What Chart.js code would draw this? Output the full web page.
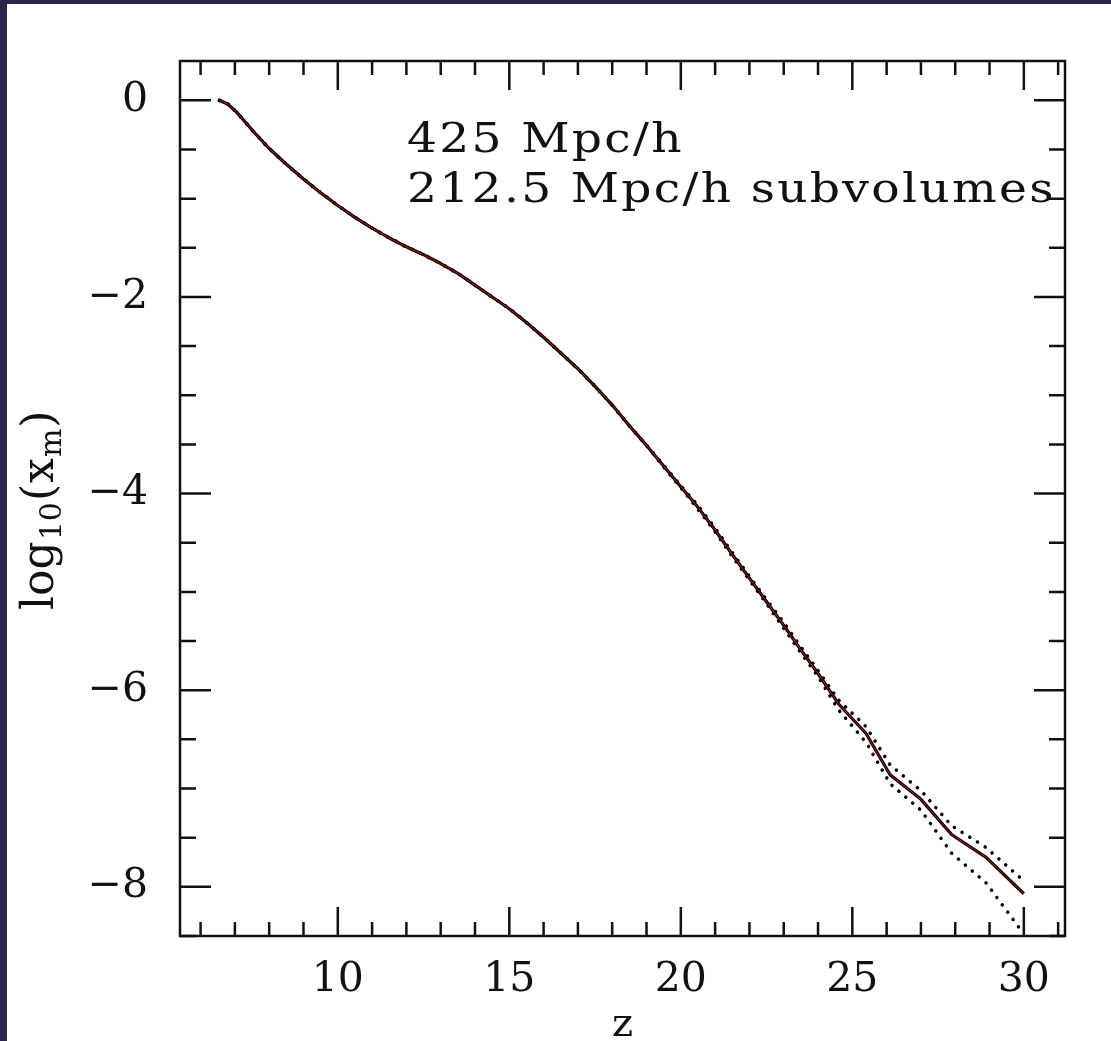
<!DOCTYPE html>
<html><head><meta charset="utf-8">
<script src="https://cdn.jsdelivr.net/npm/chart.js@4.4.1/dist/chart.umd.min.js"></script>
<style>html,body{margin:0;padding:0;background:#2c2550;overflow:hidden}canvas{display:block}</style>
</head><body>
<canvas id="c" width="1111" height="1041"></canvas>
<script>
// ---- data ----
const zVals = [6.55,6.8,7.05,7.3,7.6,8.0,8.5,9.0,9.5,10.0,10.5,11.0,11.5,12.0,12.5,13.0,13.5,14.0,14.5,15.0,15.5,16.0,16.5,17.0,17.5,18.0,18.5,19.0,19.5,20.0,20.5,21.0,21.5,22.0,22.5,23.0,23.5,24.0,24.6,25.4,26.1,27.0,27.9,28.9,30.0];
const meanVals = [0.0,-0.04,-0.12,-0.22,-0.34,-0.49,-0.65,-0.80,-0.94,-1.07,-1.19,-1.30,-1.40,-1.49,-1.57,-1.66,-1.76,-1.88,-2.00,-2.12,-2.26,-2.41,-2.57,-2.73,-2.91,-3.10,-3.31,-3.51,-3.72,-3.93,-4.14,-4.37,-4.62,-4.86,-5.10,-5.34,-5.59,-5.83,-6.14,-6.44,-6.86,-7.11,-7.47,-7.70,-8.07];
const upperVals = [0.0,-0.04,-0.12,-0.22,-0.34,-0.49,-0.65,-0.80,-0.94,-1.07,-1.19,-1.30,-1.40,-1.49,-1.57,-1.66,-1.76,-1.88,-2.00,-2.12,-2.26,-2.41,-2.57,-2.73,-2.91,-3.10,-3.31,-3.51,-3.71,-3.92,-4.12,-4.35,-4.60,-4.84,-5.08,-5.31,-5.56,-5.80,-6.10,-6.37,-6.76,-7.02,-7.38,-7.60,-7.94];
const lowerVals = [0.0,-0.04,-0.12,-0.22,-0.34,-0.49,-0.65,-0.80,-0.94,-1.07,-1.19,-1.30,-1.40,-1.49,-1.57,-1.66,-1.76,-1.88,-2.00,-2.12,-2.26,-2.41,-2.57,-2.73,-2.91,-3.10,-3.31,-3.51,-3.73,-3.94,-4.16,-4.39,-4.64,-4.88,-5.12,-5.37,-5.62,-5.86,-6.20,-6.53,-6.95,-7.22,-7.66,-7.96,-8.48];
const xTickLabels = [10,15,20,25,30];
const yTickLabels = [-8,-6,-4,-2,0];
const annotationLines = ['425 Mpc/h','212.5 Mpc/h subvolumes'];
const xTitle = 'z';

const X_MIN = 5.4, X_MAX = 31.2, Y_MIN = -8.5, Y_MAX = 0.4;
const FONT = "'DejaVu Serif', 'Liberation Serif', serif";

const pts = (ys) => zVals.map((z,i)=>({x:z,y:ys[i]}));

const framePlugin = {
  id:'frame',
  beforeDraw(chart){
    const ctx = chart.ctx;
    ctx.save();
    ctx.fillStyle = '#2c2550';
    ctx.fillRect(0,0,chart.width,chart.height);
    ctx.fillStyle = '#ffffff';
    ctx.fillRect(7,4,chart.width-7,chart.height-4);
    ctx.restore();
  },
  afterDatasetsDraw(chart){
    const ctx = chart.ctx, a = chart.chartArea;
    const xs = chart.scales.x, ys = chart.scales.y;
    ctx.save();
    ctx.strokeStyle = '#111';
    ctx.lineWidth = 2.5;
    ctx.lineCap = 'butt';
    ctx.strokeRect(a.left, a.top, a.right-a.left, a.bottom-a.top);
    ctx.beginPath();
    for (let z = Math.ceil(X_MIN); z <= X_MAX; z++) {
      const px = xs.getPixelForValue(z);
      const len = (z % 5 === 0) ? 29 : 14;
      ctx.moveTo(px, a.bottom); ctx.lineTo(px, a.bottom - len);
      ctx.moveTo(px, a.top); ctx.lineTo(px, a.top + len);
    }
    for (let k = Math.ceil(Y_MIN*2); k <= Y_MAX*2; k++) {
      const v = k/2;
      const py = ys.getPixelForValue(v);
      const len = (k % 4 === 0) ? 31 : 16;
      ctx.moveTo(a.left, py); ctx.lineTo(a.left + len, py);
      ctx.moveTo(a.right, py); ctx.lineTo(a.right - len, py);
    }
    ctx.stroke();
    ctx.restore();
  },
  afterDraw(chart){
    const ctx = chart.ctx, a = chart.chartArea;
    ctx.save();
    ctx.fillStyle = '#111';
    ctx.save();
    ctx.font = "41px " + FONT;
    ctx.letterSpacing = '2px';
    ctx.textAlign = 'left';
    ctx.textBaseline = 'alphabetic';
    ctx.translate(407, 0);
    ctx.scale(1.15, 1);
    ctx.fillText(annotationLines[0], 0, 152);
    ctx.fillText(annotationLines[1], 0, 202);
    ctx.restore();
    ctx.textAlign = 'center';
    ctx.font = "40px " + FONT;
    ctx.fillText(xTitle, (a.left+a.right)/2, 1036);
    ctx.translate(53, 610);
    ctx.rotate(-Math.PI/2);
    ctx.textAlign = 'left';
    let x = 0;
    const big = "44px " + FONT, small = "30px " + FONT;
    const parts = [['log',big,0],['10',small,8],['(',big,0],['x',big,0],['m',small,8],[')',big,0]];
    for (const [t,f,dy] of parts) {
      ctx.font = f;
      ctx.fillText(t, x, dy);
      x += ctx.measureText(t).width + 1;
    }
    ctx.restore();
  }
};

const dotted = {borderColor:'#000', borderWidth:3.5, borderDash:[0.1,9], borderCapStyle:'round', pointRadius:0, fill:false, tension:0};
new Chart(document.getElementById('c'), {
  type:'line',
  data:{
    datasets:[
      Object.assign({data:pts(upperVals), order:3}, dotted),
      Object.assign({data:pts(lowerVals), order:2}, dotted),
      {data:pts(meanVals), borderColor:'#000', borderWidth:3.2, pointRadius:0, fill:false, order:1, tension:0, borderJoinStyle:'round'},
      {data:pts(meanVals), borderColor:'#d01010', borderWidth:1, pointRadius:0, fill:false, order:0, tension:0}
    ]
  },
  options:{
    responsive:false, animation:false, devicePixelRatio:1,
    layout:{padding:{top:61, right:46, left:0, bottom:0}},
    plugins:{legend:{display:false}, tooltip:{enabled:false}},
    scales:{
      x:{type:'linear', min:X_MIN, max:X_MAX,
        afterBuildTicks:(s)=>{s.ticks = xTickLabels.map(v=>({value:v}));},
        afterFit:(s)=>{s.height = 105;},
        grid:{display:false, drawTicks:false}, border:{display:false},
        ticks:{font:{family:FONT,size:41}, color:'#111', padding:20, maxRotation:0, autoSkip:false}
      },
      y:{type:'linear', min:Y_MIN, max:Y_MAX,
        afterBuildTicks:(s)=>{s.ticks = yTickLabels.map(v=>({value:v}));},
        afterFit:(s)=>{s.width = 180;},
        grid:{display:false, drawTicks:false}, border:{display:false},
        ticks:{font:{family:FONT,size:41}, color:'#111', padding:32, autoSkip:false,
          callback:(v)=> v < 0 ? '\u2212' + Math.abs(v) : String(v)}
      }
    }
  },
  plugins:[framePlugin]
});
</script>
</body></html>
